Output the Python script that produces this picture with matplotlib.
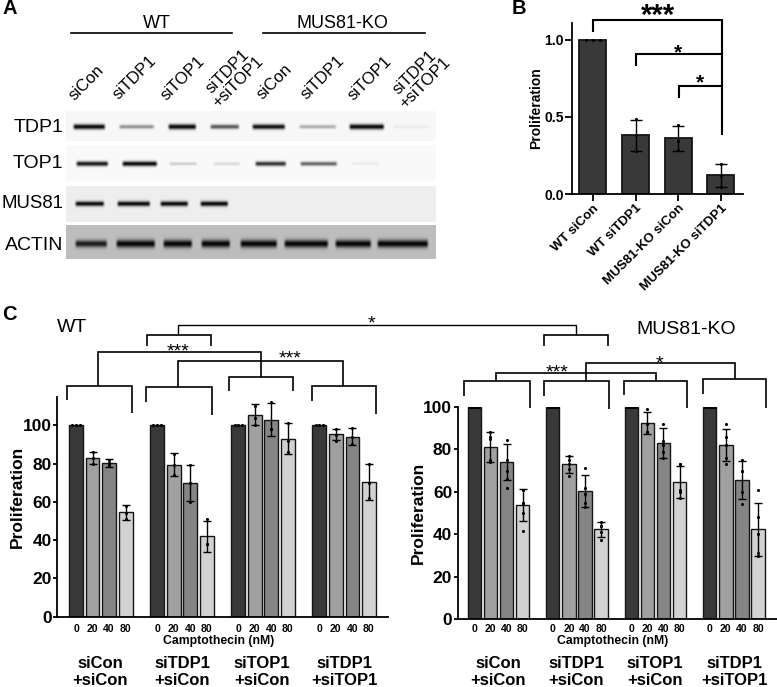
import numpy as np
import matplotlib
matplotlib.use('Agg')
import matplotlib.pyplot as plt

plt.rcParams['font.family'] = ['Liberation Sans', 'DejaVu Sans']

W, H = 777, 687

# panel A: lane boundaries in the scanned blot (px), band darkness 0-1
tdp1_left = [72, 118, 167, 209, 251, 298, 348, 392]
tdp1_right = [106, 155, 197, 240, 286, 337, 385, 430]
tdp1_dark = [0.95, 0.38, 1.0, 0.6, 0.88, 0.28, 1.0, 0.05]
top1_left = [75, 121, 168, 212, 254, 299, 350]
top1_right = [109, 158, 198, 241, 287, 338, 380]
top1_dark = [0.85, 0.92, 0.16, 0.12, 0.75, 0.55, 0.06]
mus81_left = [74, 116, 159, 199]
mus81_right = [105, 151, 189, 229]
mus81_dark = [0.9, 0.95, 0.95, 1.0]
actin_left = [74, 115, 162, 200, 239, 283, 334, 376]
actin_right = [108, 156, 193, 231, 278, 329, 372, 429]
actin_dark = [0.8, 1.0, 1.0, 1.0, 1.0, 1.0, 1.0, 1.0]

# panel B
b_labels = ['WT siCon', 'WT siTDP1', 'MUS81-KO siCon', 'MUS81-KO siTDP1']
b_means = [1.0, 0.38, 0.36, 0.12]
b_errs = [0.0, 0.10, 0.08, 0.075]
b_points = [[1, 1, 1], [0.485, 0.38, 0.28], [0.445, 0.345, 0.285], [0.195, 0.115, 0.045]]

# panel C
doses = ['0', '20', '40', '80']
dose_colors = ['#393939', '#a0a0a0', '#858585', '#d2d2d2']
wt_means = [[100, 83, 80.3, 54.5], [100, 79.5, 70, 42], [100, 105.5, 103, 93], [100, 95.3, 94, 70.5]]
wt_errs = [[0, 3, 2, 4], [0, 6, 9.5, 8], [0, 5.5, 8.5, 8], [0, 3, 4.5, 9.5]]
wt_points = [
    [[100] * 3, [86, 83, 80], [82, 80.5, 79], [58, 54, 51]],
    [[100] * 3, [85, 79, 74], [79, 70, 60], [51, 38, 38]],
    [[100] * 3, [110, 104, 100], [112, 98, 98], [101, 92, 86]],
    [[100] * 3, [98, 95, 92], [98.5, 94, 90], [80, 70, 62]],
]
ko_means = [[100, 81.3, 74, 54], [100, 73, 60.5, 42.5], [100, 92.5, 83, 64.5], [100, 82, 65.5, 42.5]]
ko_errs = [[0, 7, 8.5, 7.5], [0, 4, 7.5, 3.5], [0, 5, 7, 7.5], [0, 7.5, 9, 12.5]]
ko_points = [
    [[100] * 6, [88, 86, 85, 75, 74], [84.5, 75, 70, 66, 62], [61, 55, 55, 50, 41.5]],
    [[100] * 6, [77, 75, 73, 71, 67.5], [71.5, 62, 59, 55, 53], [46, 44, 44, 41, 37.5]],
    [[100] * 6, [99, 92, 88, 88, 88], [92, 84, 82, 79, 76], [73, 73, 61, 60, 57]],
    [[100] * 6, [92, 86, 82, 76, 73], [75, 70, 70, 60, 54.5], [61, 48, 40, 31, 30]],
]
group_labels = ['siCon\n+siCon', 'siTDP1\n+siCon', 'siTOP1\n+siCon', 'siTDP1\n+siTOP1']
lane_labels = ['siCon', 'siTDP1', 'siTOP1', 'siTDP1\n+siTOP1'] * 2


def px_axes(fig, left, top, right, bottom):
    return fig.add_axes([left / W, 1 - bottom / H, (right - left) / W, (bottom - top) / H])


def draw_blot(fig, top, bottom, background, lefts, rights, darkness, centre, thick):
    ax = px_axes(fig, 66, top, 436, bottom)
    xs, ys = np.meshgrid(np.arange(66, 436, 0.5), np.arange(top, bottom, 0.5))
    img = np.zeros_like(xs)
    for left, right, dark in zip(lefts, rights, darkness):
        along = np.clip((xs - left) / 3, 0, 1) * np.clip((right - xs) / 3, 0, 1)
        band = thick * (0.6 + 0.4 * dark)
        img += min(1.0, dark * 1.1) * along * np.exp(-((ys - centre) / band) ** 2)
    ax.imshow(background * (1 - np.clip(img, 0, 1)) + 0.02, cmap='gray', vmin=0, vmax=1,
              extent=[66, 436, bottom, top], aspect='auto', interpolation='bilinear')
    ax.axis('off')


def draw_points(ax, x, points, spread):
    points = np.array(points, dtype=float)
    offsets = np.zeros(len(points))
    if np.all(points == points[0]):
        offsets = np.linspace(-spread, spread, len(points))
    ax.scatter(x + offsets, points, s=5, color='black', zorder=4, linewidths=0)


def draw_c_panel(ax, means, errs, points, gap, spread, tick_pad):
    for g in range(4):
        for d in range(4):
            x = g * gap + d
            ax.bar(x, means[g][d], width=0.83, color=dose_colors[d], edgecolor='#151515', linewidth=1.0)
            if errs[g][d] > 0:
                ax.errorbar(x, means[g][d], yerr=errs[g][d], color='black', capsize=3.2,
                            elinewidth=1.0, capthick=1.0, zorder=3)
            draw_points(ax, x, points[g][d], spread)
    ticks = [g * gap + d for g in range(4) for d in range(4)]
    ax.set_xticks(ticks)
    ax.set_xticklabels(doses * 4, fontsize=7.5, fontweight='bold')
    ax.tick_params(axis='x', length=0, pad=tick_pad)
    ax.set_yticks(range(0, 101, 20))
    ax.tick_params(axis='y', width=1.3, length=3, labelsize=12.5, pad=1)
    for lab in ax.get_yticklabels():
        lab.set_fontweight('bold')
    for side in ['top', 'right']:
        ax.spines[side].set_visible(False)
    for side in ['left', 'bottom']:
        ax.spines[side].set_linewidth(1.3)


def bracket(ax, path, lw=1.2):
    xs, ys = zip(*path)
    ax.plot(xs, ys, color='black', lw=lw, solid_joinstyle='miter', solid_capstyle='butt')


def z3(x, y):
    return x / 3, 300 + y / 3


def z4(x, y):
    return 390 + x / 3, 300 + y / 3


def z2(x, y):
    return 500 + x / 3, y / 3


fig = plt.figure(figsize=(W / 100, H / 100), dpi=100)

# panel A blots
draw_blot(fig, 111, 141, 0.95, tdp1_left, tdp1_right, tdp1_dark, 126.5, 2.6)
draw_blot(fig, 145, 181, 0.96, top1_left, top1_right, top1_dark, 163.5, 2.5)
draw_blot(fig, 186, 222, 0.91, mus81_left, mus81_right, mus81_dark, 203.5, 2.5)
draw_blot(fig, 225, 259, 0.72, actin_left, actin_right, actin_dark, 243.5, 3.8)

# panel B
ax_b = px_axes(fig, 572, 23, 743, 194)
ax_b.set_xlim(-0.49, 3.52)
ax_b.set_ylim(0, 171 / 154.5)
ax_b.bar(range(4), b_means, width=0.63, color='#393939', edgecolor='#151515', linewidth=1.3)
for i in range(4):
    if b_errs[i] > 0:
        ax_b.errorbar(i, b_means[i], yerr=b_errs[i], color='black', capsize=4.5, elinewidth=1.0, capthick=1.0, zorder=3)
    draw_points(ax_b, i, b_points[i], 0.17)
ax_b.set_xticks(range(4))
ax_b.set_xticklabels(b_labels, rotation=45, ha='right', rotation_mode='anchor', fontsize=9.5, fontweight='bold')
ax_b.set_yticks([0, 0.5, 1.0])
ax_b.set_yticklabels(['0.0', '0.5', '1.0'], fontsize=10, fontweight='bold')
ax_b.set_ylabel('Proliferation', fontsize=10, fontweight='bold', labelpad=0.5)
ax_b.tick_params(width=1.3, length=5, pad=1)
for side in ['top', 'right']:
    ax_b.spines[side].set_visible(False)
for side in ['left', 'bottom']:
    ax_b.spines[side].set_linewidth(1.3)

# panel C, both cell lines
ax_wt = px_axes(fig, 57.3, 397, 388, 616.7)
ax_wt.set_xlim((57.3 - 76) / 16.55, (388 - 76) / 16.55)
ax_wt.set_ylim(0, 219.7 / 191.4 * 100)
draw_c_panel(ax_wt, wt_means, wt_errs, wt_points, 4.9, 0.22, 5)

ax_ko = px_axes(fig, 457.7, 407, 776.7, 619.3)
ax_ko.set_xlim((457.7 - 474.3) / 16.1, (776.7 - 474.3) / 16.1)
ax_ko.set_ylim(0, 100)
draw_c_panel(ax_ko, ko_means, ko_errs, ko_points, 4.875, 0.3, 3.5)

# overlay in picture pixels for labels and brackets
ov = fig.add_axes([0, 0, 1, 1], facecolor='none')
ov.set_xlim(0, W)
ov.set_ylim(H, 0)
ov.axis('off')

for x, y, s in [(10, 9, 'A'), (519, 9, 'B'), (9, 315, 'C')]:
    ov.text(x, y, s, fontsize=14.5, fontweight='bold', ha='center', va='center')

ov.plot([71, 232], [33, 33], color='black', lw=1.2)
ov.plot([263, 425], [33, 33], color='black', lw=1.2)
ov.text(157, 23, 'WT', fontsize=13, ha='center', va='center')
ov.text(342, 23, 'MUS81-KO', fontsize=13, ha='center', va='center')

lane_x = [86, 135, 183, 233, 274, 323, 370, 420]
lane_y = [83, 78, 78, 77, 82, 78, 78, 78]
for x, y, s in zip(lane_x, lane_y, lane_labels):
    ov.text(x, y, s, fontsize=12, rotation=45, ha='center', va='center', rotation_mode='anchor', linespacing=0.95)

for y, s, size in [(127, 'TDP1', 14), (164, 'TOP1', 14), (203, 'MUS81', 13.4), (245, 'ACTIN', 14)]:
    ov.text(63, y, s, fontsize=size, ha='right', va='center')

# panel B brackets
bracket(ov, [z2(280, 95), z2(280, 60), z2(665, 60), z2(665, 405)], 1.5)
bracket(ov, [z2(408, 198), z2(408, 162), z2(665, 162)], 1.5)
bracket(ov, [z2(536, 293), z2(536, 258), z2(665, 258)], 1.5)
ov.text(*z2(473, 48), '***', fontsize=21, fontweight='bold', ha='center', va='center')
ov.text(*z2(533, 158), '*', fontsize=15, fontweight='bold', ha='center', va='center')
ov.text(*z2(601, 250), '*', fontsize=15, fontweight='bold', ha='center', va='center')

# panel C brackets
bracket(ov, [z3(535, 105), z3(535, 75), z4(558, 75), z4(558, 105)], 1.0)
bracket(ov, [z3(440, 138), z3(440, 105), z3(633, 105), z3(633, 138)])
bracket(ov, [z4(463, 137), z4(463, 105), z4(655, 105), z4(655, 137)])
bracket(ov, [z3(295, 258), z3(295, 155), z3(783, 155), z3(783, 230)])
bracket(ov, [z3(200, 300), z3(200, 258), z3(397, 258), z3(397, 340)])
bracket(ov, [z3(686, 272), z3(686, 230), z3(880, 230), z3(880, 272)])
bracket(ov, [z3(535, 262), z3(535, 183), z3(1030, 183), z3(1030, 258)])
bracket(ov, [z3(438, 305), z3(438, 262), z3(635, 262), z3(635, 345)])
bracket(ov, [z3(935, 303), z3(935, 258), z3(1127, 258), z3(1127, 342)])
bracket(ov, [z4(223, 288), z4(223, 243), z4(420, 243), z4(420, 325)])
bracket(ov, [z4(318, 243), z4(318, 220), z4(797, 220), z4(797, 243)])
bracket(ov, [z4(702, 285), z4(702, 243), z4(890, 243), z4(890, 325)])
bracket(ov, [z4(588, 243), z4(588, 190), z4(1035, 190), z4(1035, 238)])
bracket(ov, [z4(463, 288), z4(463, 243), z4(657, 243), z4(657, 328)])
bracket(ov, [z4(938, 283), z4(938, 238), z4(1127, 238), z4(1127, 323)])

for pos, s in [(z3(1113, 72), '*'), (z3(533, 155), '***'), (z3(870, 178), '***'), (z4(502, 220), '***'), (z4(808, 192), '*')]:
    ov.text(pos[0], pos[1], s, fontsize=14, ha='center', va='center')

ov.text(72, 328, 'WT', fontsize=14, ha='center', va='center')
ov.text(686, 329, 'MUS81-KO', fontsize=14, ha='center', va='center')

ov.text(17, 497, 'Proliferation', fontsize=12.5, fontweight='bold', rotation=90, ha='center', va='center')
ov.text(418, 513, 'Proliferation', fontsize=12.5, fontweight='bold', rotation=90, ha='center', va='center')

ov.text(219, 641, 'Camptothecin (nM)', fontsize=8.8, fontweight='bold', ha='center', va='center')
ov.text(613, 641, 'Camptothecin (nM)', fontsize=8.8, fontweight='bold', ha='center', va='center')
for x, s in zip([100, 182, 262, 344], group_labels):
    ov.text(x, 672, s, fontsize=12, fontweight='bold', ha='center', va='center', linespacing=1.1)
for x, s in zip([498, 576, 655, 734], group_labels):
    ov.text(x, 672, s, fontsize=12, fontweight='bold', ha='center', va='center', linespacing=1.1)

fig.savefig('out.png', dpi=100)
